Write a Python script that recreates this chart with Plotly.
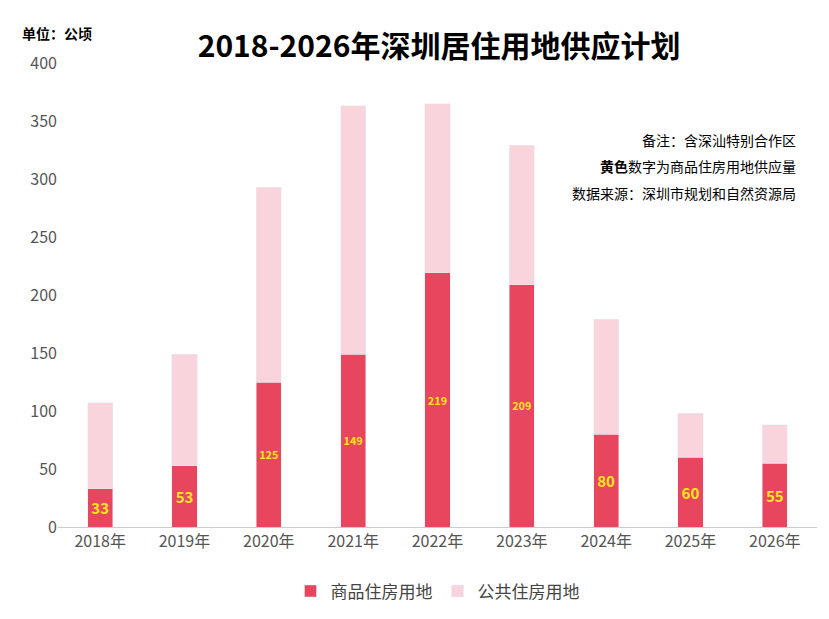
import plotly.graph_objects as go

years = ['2018年', '2019年', '2020年', '2021年', '2022年', '2023年', '2024年', '2025年', '2026年']
commercial = [33, 53, 125, 149, 219, 209, 80, 60, 55]
public = [74, 96, 168, 214, 146, 120, 99, 38, 33]

font = 'Noto Sans CJK SC'

fig = go.Figure()
fig.add_trace(go.Bar(x=years, y=commercial, name='商品住房用地', marker_color='#E8465E',
                     text=['<b>%d</b>' % v for v in commercial], textposition='inside',
                     insidetextanchor='middle',
                     textfont=dict(color='#FFE81A', size=15, family=font), textangle=0))
fig.add_trace(go.Bar(x=years, y=public, name='公共住房用地', marker_color='#F9D4DC'))

fig.update_layout(
    barmode='stack', bargap=0.7,
    width=829, height=619,
    paper_bgcolor='white', plot_bgcolor='white',
    font=dict(family=font, color='#555', size=15),
    title=dict(text='<b>2018-2026年深圳居住用地供应计划</b>', x=0.52, y=0.955, xanchor='center',
               font=dict(size=30, color='black', family=font)),
    margin=dict(l=50, r=20, t=55, b=100),
    legend=dict(orientation='h', x=0.5, xanchor='center', y=-0.1, yanchor='top',
                traceorder='normal', font=dict(size=17, color='#444')),
    showlegend=True,
)
fig.update_yaxes(range=[0, 400], dtick=50, showgrid=False, zeroline=False,
                 tickfont=dict(size=16, color='#555'))
fig.update_xaxes(showline=True, linecolor='#ccc', ticks='', tickfont=dict(size=16, color='#555'))

fig.add_annotation(text='<b>单位：公顷</b>', xref='paper', yref='paper', x=-0.05, y=1.09,
                   xanchor='left', showarrow=False, font=dict(size=14, color='black'))
notes = ['备注：含深汕特别合作区', '<b>黄色</b>数字为商品住房用地供应量', '数据来源：深圳市规划和自然资源局']
for i, t in enumerate(notes):
    fig.add_annotation(text=t, xref='paper', yref='paper', x=0.975, y=0.86 - i * 0.057,
                       xanchor='right', showarrow=False, font=dict(size=14, color='black'))

fig.write_html('out.html')
